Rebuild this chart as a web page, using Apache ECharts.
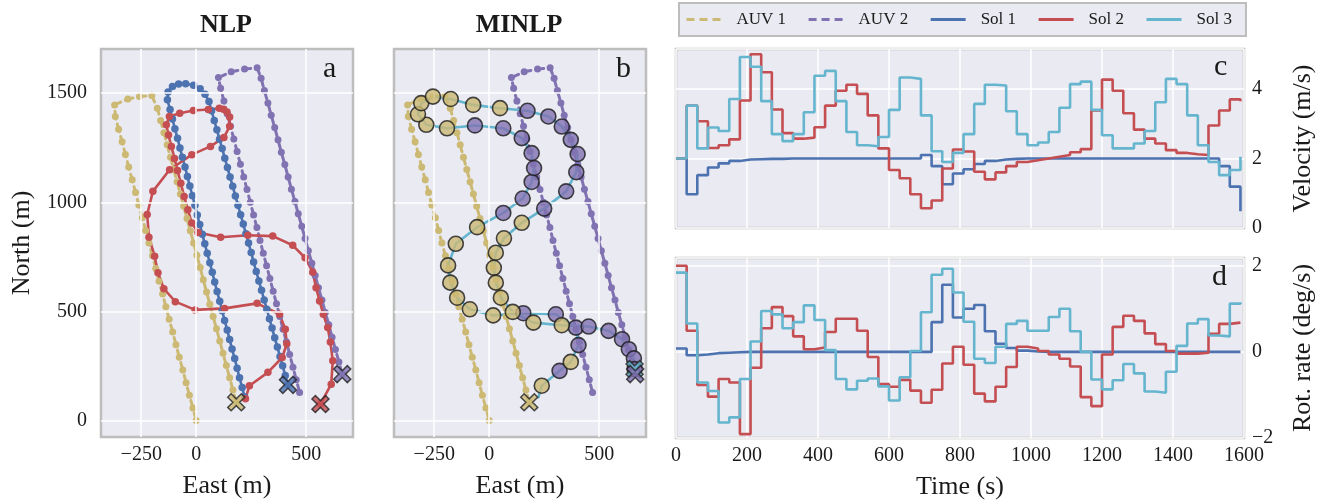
<!DOCTYPE html>
<html><head><meta charset="utf-8">
<script src="https://cdn.jsdelivr.net/npm/echarts@6/dist/echarts.min.js"></script>
<style>html,body{margin:0;padding:0;background:#fff}#c{width:1330px;height:504px}</style>
</head><body><div id="c"></div>
<script>
// ---------- data (East, North in metres) ----------
const auv1Path = [[0,0],[-15,58],[-31,116],[-46,174],[-61,232],[-77,290],[-92,348],[-107,406],[-123,464],[-138,522],[-153,580],[-169,638],[-184,697],[-199,755],[-215,813],[-230,871],[-245,929],[-261,987],[-276,1045],[-291,1103],[-307,1161],[-322,1219],[-337,1277],[-353,1335],[-368,1393],[-371,1446],[-311,1473],[-258,1484],[-202,1489],[-177,1431],[-162,1375],[-147,1319],[-132,1263],[-117,1206],[-102,1150],[-87,1094],[-72,1038],[-57,982],[-42,926],[-27,870],[-12,814],[3,757],[18,701],[32,645],[47,589],[62,533],[77,477],[92,421],[107,365],[122,308],[137,252],[152,196],[167,140],[182,84]];
const auv2Path = [[470,129],[455,187],[440,245],[425,303],[410,361],[395,419],[380,477],[365,535],[350,593],[335,651],[320,709],[305,767],[290,825],[276,884],[261,942],[246,1000],[231,1058],[216,1116],[201,1174],[186,1232],[171,1290],[156,1348],[141,1406],[126,1464],[111,1522],[101,1571],[159,1598],[220,1610],[277,1616],[295,1568],[310,1512],[326,1455],[341,1399],[357,1342],[372,1286],[387,1229],[403,1173],[418,1116],[433,1060],[449,1003],[464,947],[480,890],[495,834],[510,778],[526,721],[541,665],[556,608],[572,552],[587,495],[603,439],[618,382],[633,326],[649,269],[664,213]];
const sol1Path = [[220,108],[209,152],[197,196],[186,240],[175,284],[163,328],[152,371],[141,415],[129,459],[118,503],[107,547],[95,591],[84,635],[73,679],[62,723],[50,767],[39,810],[28,854],[16,898],[5,942],[-6,986],[-17,1030],[-29,1074],[-40,1118],[-51,1162],[-63,1206],[-74,1249],[-85,1293],[-97,1337],[-108,1381],[-119,1425],[-131,1469],[-128,1505],[-108,1530],[-80,1542],[-48,1543],[-12,1536],[18,1520],[40,1495],[58,1462],[70,1419],[82,1375],[94,1332],[106,1289],[118,1246],[130,1202],[142,1159],[154,1116],[166,1073],[178,1029],[190,986],[202,943],[214,900],[226,856],[238,813],[250,770],[261,726],[273,683],[285,640],[297,597],[309,553],[321,510],[333,467],[345,424],[357,380],[369,337],[381,294],[393,251],[405,207],[417,164]];
const sol2Path = [[224,100],[242,160],[326,221],[391,289],[412,352],[405,419],[379,487],[277,537],[129,514],[-5,507],[-95,545],[-147,604],[-174,677],[-189,753],[-215,840],[-223,944],[-197,1050],[-121,1149],[-20,1218],[65,1256],[126,1297],[152,1348],[152,1390],[140,1413],[124,1426],[105,1431],[55,1425],[-13,1420],[-75,1408],[-122,1393],[-136,1355],[-126,1308],[-113,1256],[-99,1201],[-85,1145],[-70,1087],[-55,1027],[-38,966],[-20,905],[8,862],[111,840],[235,849],[348,845],[439,803],[495,746],[530,680],[545,609],[561,548],[578,487],[598,426],[610,360],[621,274],[614,167],[565,76]];
const sol3Path = [[224,107],[239,160],[320,228],[371,269],[406,346],[394,426],[303,487],[155,492],[18,482],[-88,510],[-146,563],[-177,632],[-187,711],[-152,810],[-55,886],[64,951],[152,1017],[193,1093],[204,1157],[193,1225],[148,1294],[64,1339],[-65,1352],[-192,1339],[-286,1355],[-324,1403],[-309,1454],[-256,1484],[-175,1473],[-73,1446],[49,1431],[174,1419],[269,1393],[330,1347],[371,1286],[402,1221],[396,1138],[350,1050],[250,971],[148,906],[67,835],[30,769],[21,700],[30,632],[53,563],[107,498],[201,449],[330,437],[452,431],[543,411],[604,373],[635,327],[658,285],[661,236]];
// which AUV each Sol 3 point is linked to (1 = AUV 1, 2 = AUV 2, 0 = none)
const sol3Link = [0,1,2,1,2,2,2,2,1,1,1,1,1,1,1,2,2,2,2,2,2,2,2,1,1,1,1,1,1,1,1,2,2,2,2,2,2,2,2,1,1,1,1,1,1,1,1,1,2,2,2,2,2,2];

// time grid (s)
const stepTimes = [0,30,60,90,120,150,180,210,240,270,300,330,360,390,420,450,480,510,540,570,600,630,660,690,720,750,780,810,840,870,900,930,960,990,1020,1050,1080,1110,1140,1170,1200,1230,1260,1290,1320,1350,1380,1410,1440,1470,1500,1530,1560,1590];
// velocity (m/s)
const velSol1 = [2.0,0.97,1.52,1.74,1.86,1.93,1.97,1.98,1.99,1.99, 2.0,2.0,2.0,2.0,2.0,2.0,2.0,2.0,2.0,2.0, 2.0,2.0,2.0,2.1,1.78,1.26,1.57,1.69,1.84,1.93, 1.97,1.99,2.0,2.0,2.0,2.0,2.0,2.0,2.0,2.0, 2.0,2.0,2.0,2.0,2.0,2.0,2.0,2.0,2.0,2.0, 2.0,1.78,1.19,0.48];
const velSol2 = [2.0,3.52,3.07,2.3,2.38,2.55,3.67,5.0,4.48,3.41, 2.73,2.57,2.6,2.9,3.52,3.95,4.12,3.86,3.24,2.29, 1.67,1.43,0.97,0.57,0.79,1.71,2.26,2.2,1.62,1.4, 1.6,1.78,1.9,1.95,2.0,2.05,2.1,2.18,2.27,3.38, 4.27,3.95,3.3,2.83,2.57,2.43,2.24,2.16,2.12,2.1, 2.95,3.38,3.7,3.65];
const velSol3 = [2.0,3.52,2.29,2.89,2.79,3.71,4.92,4.64,3.65,2.7, 2.5,2.7,3.33,4.38,4.52,3.65,2.76,2.38,2.35,2.62, 3.4,4.33,4.29,3.24,2.21,1.9,2.16,2.7,3.57,4.12, 4.1,3.36,2.7,2.38,2.46,2.76,3.46,4.14,4.21,3.4, 2.67,2.29,2.29,2.43,2.79,3.62,4.29,4.14,3.24,2.38, 1.9,1.52,1.67,2.05];
// rotation rate (deg/s)
const rotSol1 = [0.08,-0.08,-0.06,-0.03,-0.02,-0.01,0,0,0,0, 0,0,0,0,0,0,0,0,0,0, 0,0,0,0,0.69,1.56,0.8,1.0,1.09,0.48, 0.19,0.09,0.03,0.01,0,0,0,0,0,0, 0,0,0,0,0,0,0,0,0,0, 0,0,0,0];
const rotSol2 = [2.0,0.49,-0.77,-1.04,-0.63,-0.71,-1.91,-0.37,0.55,1.04, 0.83,0.36,0.06,0.1,0.46,0.77,0.77,0.49,-0.12,-0.75, -0.81,-0.65,-0.9,-1.18,-0.88,-0.27,0.12,-0.3,-0.97,-1.15, -0.81,-0.35,0.12,0.08,0.02,-0.06,-0.16,-0.34,-1.05,-1.26, -0.06,0.58,0.84,0.72,0.43,0.18,0.02,-0.04,-0.04,-0.02, 0.42,0.65,0.68,0.68];
const rotSol3 = [1.84,0.66,-0.71,-0.91,-1.64,-1.52,-0.63,0.24,0.95,0.87, 0.55,0.69,1.08,0.74,0.04,-0.63,-0.87,-0.67,-0.62,-0.8, -1.13,-0.59,0.02,0.92,1.79,1.93,1.38,0.7,-0.16,-0.26, 0.12,0.65,0.72,0.49,0.49,0.81,1.0,0.48,0.0,-0.64, -0.87,-0.66,-0.28,-0.5,-0.92,-0.95,-0.46,0.14,0.66,0.76, 0.38,0.36,1.12,1.15];

// tick labels
const eastTicks = [-250, 0, 500];
const northTicks = [0, 500, 1000, 1500];
const seriesNames = ['AUV 1', 'AUV 2', 'Sol 1', 'Sol 2', 'Sol 3'];

// ---------- styling ----------
const FONT = 'Liberation Serif';
const C = {auv1:'#CCB974', auv2:'#8172B2', sol1:'#4C72B0', sol2:'#C44E52', sol3:'#64B5CD'};
const BG = '#EAEAF2', BORDER = '#bdbdbd', TXT = '#1a1a1a';
const DASH = [8, 5];
const XSYM = 'path://M0,2 L2,0 L5,3 L8,0 L10,2 L7,5 L10,8 L8,10 L5,7 L2,10 L0,8 L3,5 Z';
const minus = v => String(v).replace('-', '\u2212');

const chart = echarts.init(document.getElementById('c'), null, {renderer:'canvas'});

const grids = [
  {left:101, top:49, width:252, height:389},
  {left:394, top:49, width:252, height:389},
  {left:676, top:49, width:568, height:179},
  {left:676, top:258, width:568, height:180}
].map(g => Object.assign(g, {show:true, backgroundColor:BG, borderColor:BORDER, borderWidth:2.5, containLabel:false}));

const lbl = (extra) => Object.assign({fontFamily:FONT, fontSize:20, color:TXT, formatter:minus}, extra||{});
const nameStyle = {fontFamily:FONT, fontSize:26, color:TXT};

const enX = (gi, name) => ({gridIndex:gi, type:'value', min:-433, max:713,
  axisLine:{show:false}, axisTick:{show:false, customValues:eastTicks}, splitLine:{show:false},
  axisLabel:lbl({customValues:eastTicks, margin:8}),
  name:name, nameLocation:'middle', nameGap:36, nameTextStyle:nameStyle});
const enY = (gi, showLabel) => ({gridIndex:gi, type:'value', min:-75, max:1702,
  axisLine:{show:false}, axisTick:{show:false, customValues:northTicks}, splitLine:{show:false},
  axisLabel:lbl({show:showLabel, customValues:northTicks, margin:14}),
  name: showLabel ? 'North (m)' : '', nameLocation:'middle', nameGap:66, nameRotate:90, nameTextStyle:nameStyle});
const timeX = (gi, showLabel) => ({gridIndex:gi, type:'value', min:0, max:1600, interval:200,
  axisLine:{show:false}, axisTick:{show:false},
  splitLine:{show:true, lineStyle:{color:'#ffffff', width:1.5}},
  axisLabel:lbl({show:showLabel, margin:8}),
  name: showLabel ? 'Time (s)' : '', nameLocation:'middle', nameGap:36, nameTextStyle:nameStyle});

const gridSeries = (gi) => ({type:'line', xAxisIndex:gi, yAxisIndex:gi, data:[], z:1, silent:true,
  markLine:{silent:true, symbol:['none','none'], label:{show:false}, animation:false,
    lineStyle:{color:'#ffffff', width:1.5, type:'solid'}, emphasis:{disabled:true},
    data: eastTicks.map(v => ({xAxis:v})).concat(northTicks.map(v => ({yAxis:v})))}});

const path = (name, gi, data, color, dashed, symSize) => ({name:name, type:'line', xAxisIndex:gi, yAxisIndex:gi,
  data:data, z:3, symbol: symSize ? 'circle' : 'none', symbolSize:symSize, showSymbol: !!symSize,
  itemStyle:{color:color}, lineStyle:{color:color, width: dashed ? 3 : 2.6, type: dashed ? DASH : 'solid', cap:'round'},
  emphasis:{disabled:true}});

const endMark = (gi, items) => ({type:'scatter', xAxisIndex:gi, yAxisIndex:gi, z:6, symbol:XSYM, symbolSize:17,
  data: items.map(([p, col]) => ({value:p, itemStyle:{color:col, borderColor:'#222', borderWidth:1.5}})),
  emphasis:{disabled:true}});

const step = (name, gi, vals, color) => ({name:name, type:'line', xAxisIndex:gi, yAxisIndex:gi, step:'end',
  data: stepTimes.map((t, i) => [t, vals[i]]), symbol:'none', z:3,
  lineStyle:{color:color, width:2.6}, itemStyle:{color:color}, emphasis:{disabled:true}});

const last = a => a[a.length - 1];
const linkColor = [null, C.auv1, C.auv2];
const legendColors = [C.auv1, C.auv2, C.sol1, C.sol2, C.sol3];

const legendDummies = seriesNames.map((n, i) => ({name:n, type:'line', xAxisIndex:2, yAxisIndex:2, data:[], symbol:'none',
  lineStyle:{color:legendColors[i], width:3, type: i < 2 ? DASH : 'solid'},
  itemStyle:{color:legendColors[i]}}));

const option = {
  animation:false,
  textStyle:{fontFamily:FONT},
  title:[
    {text:'NLP', left:226, top:12, textAlign:'center', padding:0, textStyle:{fontFamily:FONT, fontSize:26, fontWeight:'bold', color:TXT}},
    {text:'MINLP', left:519, top:12, textAlign:'center', padding:0, textStyle:{fontFamily:FONT, fontSize:26, fontWeight:'bold', color:TXT}},
    {text:'a', left:323, top:54, padding:0, textStyle:{fontFamily:FONT, fontSize:30, fontWeight:'normal', color:TXT}},
    {text:'b', left:616, top:54, padding:0, textStyle:{fontFamily:FONT, fontSize:30, fontWeight:'normal', color:TXT}},
    {text:'c', left:1214, top:52, padding:0, textStyle:{fontFamily:FONT, fontSize:30, fontWeight:'normal', color:TXT}},
    {text:'d', left:1212, top:262, padding:0, textStyle:{fontFamily:FONT, fontSize:30, fontWeight:'normal', color:TXT}}
  ],
  legend:{data:seriesNames, left:679, top:3, itemWidth:35, itemHeight:16, itemGap:21,
    padding:[8,14,8,6], backgroundColor:BG, borderColor:BORDER, borderWidth:2,
    itemStyle:{opacity:0, borderWidth:0}, lineStyle:{width:3},
    textStyle:{fontFamily:FONT, fontSize:17, color:TXT, padding:[0,0,0,10]}, selectedMode:false},
  grid:grids,
  xAxis:[enX(0,'East (m)'), enX(1,'East (m)'), timeX(2,false), timeX(3,true)],
  yAxis:[enY(0,true), enY(1,false),
    {gridIndex:2, type:'value', position:'right', min:0, max:5.15, interval:2,
      axisLine:{show:false}, axisTick:{show:false}, splitLine:{show:true, lineStyle:{color:'#fff', width:1.5}},
      axisLabel:lbl({margin:8, showMaxLabel:false}),
      name:'Velocity (m/s)', nameLocation:'middle', nameGap:46, nameRotate:90, nameTextStyle:nameStyle},
    {gridIndex:3, type:'value', position:'right', min:-2, max:2.18, interval:2,
      axisLine:{show:false}, axisTick:{show:false}, splitLine:{show:true, lineStyle:{color:'#fff', width:1.5}},
      axisLabel:lbl({margin:8, showMaxLabel:false}),
      name:'Rot. rate (deg/s)', nameLocation:'middle', nameGap:46, nameRotate:90, nameTextStyle:nameStyle}
  ],
  series:[].concat(
    legendDummies,
    [gridSeries(0), gridSeries(1),
     path('AUV 1 a', 0, auv1Path, C.auv1, true, 7),
     path('AUV 2 a', 0, auv2Path, C.auv2, true, 7),
     path('Sol 1 a', 0, sol1Path, C.sol1, false, 7.5),
     path('Sol 2 a', 0, sol2Path, C.sol2, false, 7.5),
     endMark(0, [[last(auv1Path), C.auv1], [last(sol1Path), C.sol1], [last(sol2Path), C.sol2], [last(auv2Path), C.auv2]]),
     path('AUV 1 b', 1, auv1Path, C.auv1, true, 7),
     path('AUV 2 b', 1, auv2Path, C.auv2, true, 7),
     path('Sol 3 b', 1, sol3Path, C.sol3, false, 0),
     {type:'scatter', xAxisIndex:1, yAxisIndex:1, z:5, symbol:'circle', symbolSize:15,
       data: sol3Path.map((p, i) => ({p, i})).filter(o => sol3Link[o.i] > 0).map(o => ({value:o.p,
         itemStyle:{color:linkColor[sol3Link[o.i]], borderColor:'#1a1a1a', borderWidth:1.6}})),
       emphasis:{disabled:true}},
     endMark(1, [[last(auv1Path), C.auv1], [last(sol3Path), C.sol3], [last(auv2Path), C.auv2]]),
     step('Sol 1 c', 2, velSol1, C.sol1), step('Sol 2 c', 2, velSol2, C.sol2), step('Sol 3 c', 2, velSol3, C.sol3),
     step('Sol 1 d', 3, rotSol1, C.sol1), step('Sol 2 d', 3, rotSol2, C.sol2), step('Sol 3 d', 3, rotSol3, C.sol3)]
  )
};
chart.setOption(option);
</script></body></html>
